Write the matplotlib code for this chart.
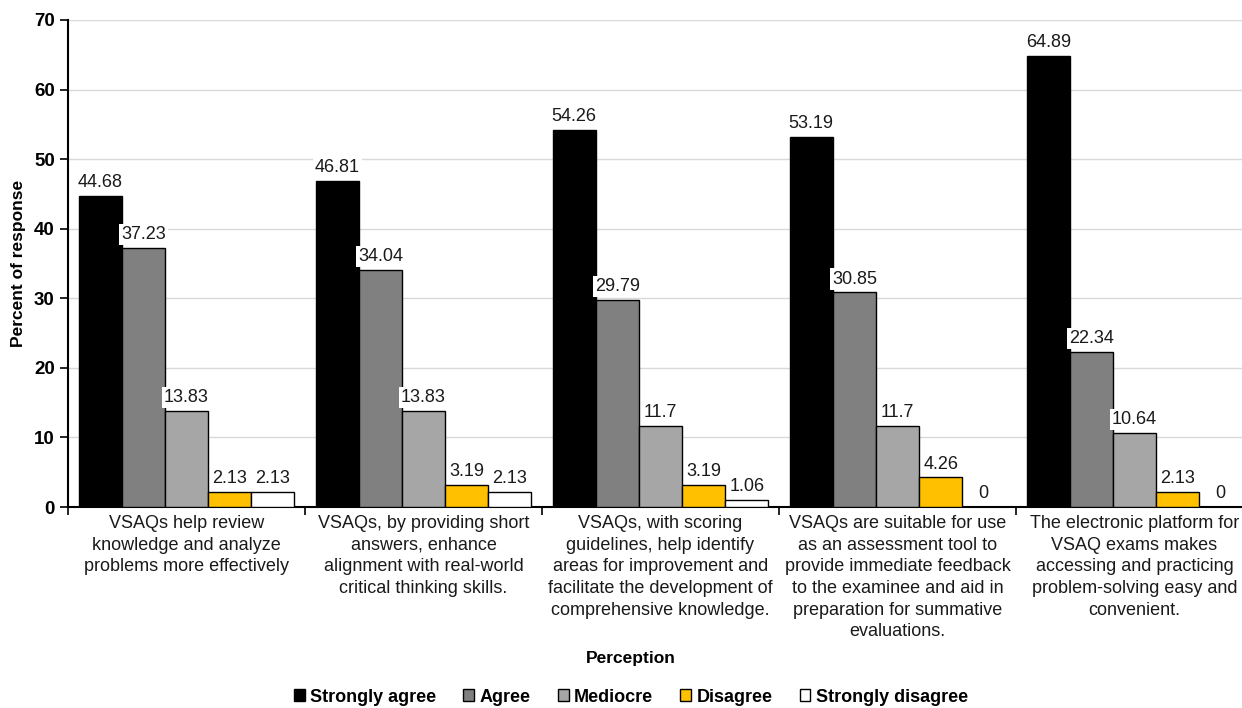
import numpy as np
import matplotlib
matplotlib.use("Agg")
import matplotlib.pyplot as plt
from matplotlib.patches import Patch

plt.rcParams["font.family"] = ["Liberation Sans", "DejaVu Sans"]

categories = [
    "VSAQs help review\nknowledge and analyze\nproblems more effectively",
    "VSAQs, by providing short\nanswers, enhance\nalignment with real-world\ncritical thinking skills.",
    "VSAQs, with scoring\nguidelines, help identify\nareas for improvement and\nfacilitate the development of\ncomprehensive knowledge.",
    "VSAQs are suitable for use\nas an assessment tool to\nprovide immediate feedback\nto the examinee and aid in\npreparation for summative\nevaluations.",
    "The electronic platform for\nVSAQ exams makes\naccessing and practicing\nproblem-solving easy and\nconvenient.",
]
series_names = ["Strongly agree", "Agree", "Mediocre", "Disagree", "Strongly disagree"]
strongly_agree = [44.68, 46.81, 54.26, 53.19, 64.89]
agree = [37.23, 34.04, 29.79, 30.85, 22.34]
mediocre = [13.83, 13.83, 11.7, 11.7, 10.64]
disagree = [2.13, 3.19, 3.19, 4.26, 2.13]
strongly_disagree = [2.13, 2.13, 1.06, 0, 0]
series_values = [strongly_agree, agree, mediocre, disagree, strongly_disagree]
colors = ["#000000", "#808080", "#A6A6A6", "#FFC000", "#FFFFFF"]

W, H = 1242, 708
fig = plt.figure(figsize=(W / 100, H / 100), dpi=100)
ax = fig.add_axes([68 / W, 1 - 507 / H, 1185 / W, 487 / H])

x = np.arange(len(categories))
bw = 0.182
for i, (name, vals, c) in enumerate(zip(series_names, series_values, colors)):
    pos = x + (i - 2) * bw
    ax.bar(pos, vals, width=bw, color=c, edgecolor="black", linewidth=1.0,
           zorder=3, label=name)
    for xp, v in zip(pos, vals):
        ax.annotate(f"{v:g}", (xp, v), xytext=(0, 3.5), textcoords="offset points",
                    ha="center", va="bottom", fontsize=13, color="#1a1a1a",
                    zorder=5,
                    bbox=dict(boxstyle="square,pad=0.12", fc="white", ec="none"))

ax.set_xlim(-0.5, len(categories) - 0.5)
ax.set_ylim(0, 70)
ax.set_yticks(np.arange(0, 71, 10))
ax.yaxis.grid(True, color="#D9D9D9", linewidth=1.0, zorder=0)
ax.set_axisbelow(True)

ax.set_xticks(x)
ax.set_xticklabels(categories, fontsize=13, linespacing=1.35, color="#1a1a1a")
# shift the last label slightly left so it stays inside the canvas
ax.get_xticklabels()[-1].set_x(x[-1] - 0.02)
ax.set_xticks(np.arange(-0.5, len(categories)), minor=True)
ax.tick_params(axis="x", which="major", length=0, pad=6)
ax.tick_params(axis="x", which="minor", length=6, width=1.2, direction="out")
ax.tick_params(axis="y", length=6, width=1.2, direction="out", labelsize=13.5)
for lab in ax.get_yticklabels():
    lab.set_fontweight("bold")

for s in ["top", "right"]:
    ax.spines[s].set_visible(False)
for s in ["left", "bottom"]:
    ax.spines[s].set_linewidth(1.5)

ax.set_ylabel("Percent of response", fontsize=12.5, fontweight="bold", labelpad=6)
fig.text(631 / W, 1 - 659 / H, "Perception", ha="center", va="center",
         fontsize=12.5, fontweight="bold")

handles = [Patch(facecolor=c, edgecolor="black", linewidth=1.0) for c in colors]
fig.legend(handles, series_names, loc="center", bbox_to_anchor=(631 / W, 1 - 697 / H),
           ncol=5, frameon=False, prop=dict(size=13, weight="bold"),
           handlelength=0.6, handleheight=0.6, handletextpad=0.3, columnspacing=1.5)

fig.savefig("out.png", dpi=100)
